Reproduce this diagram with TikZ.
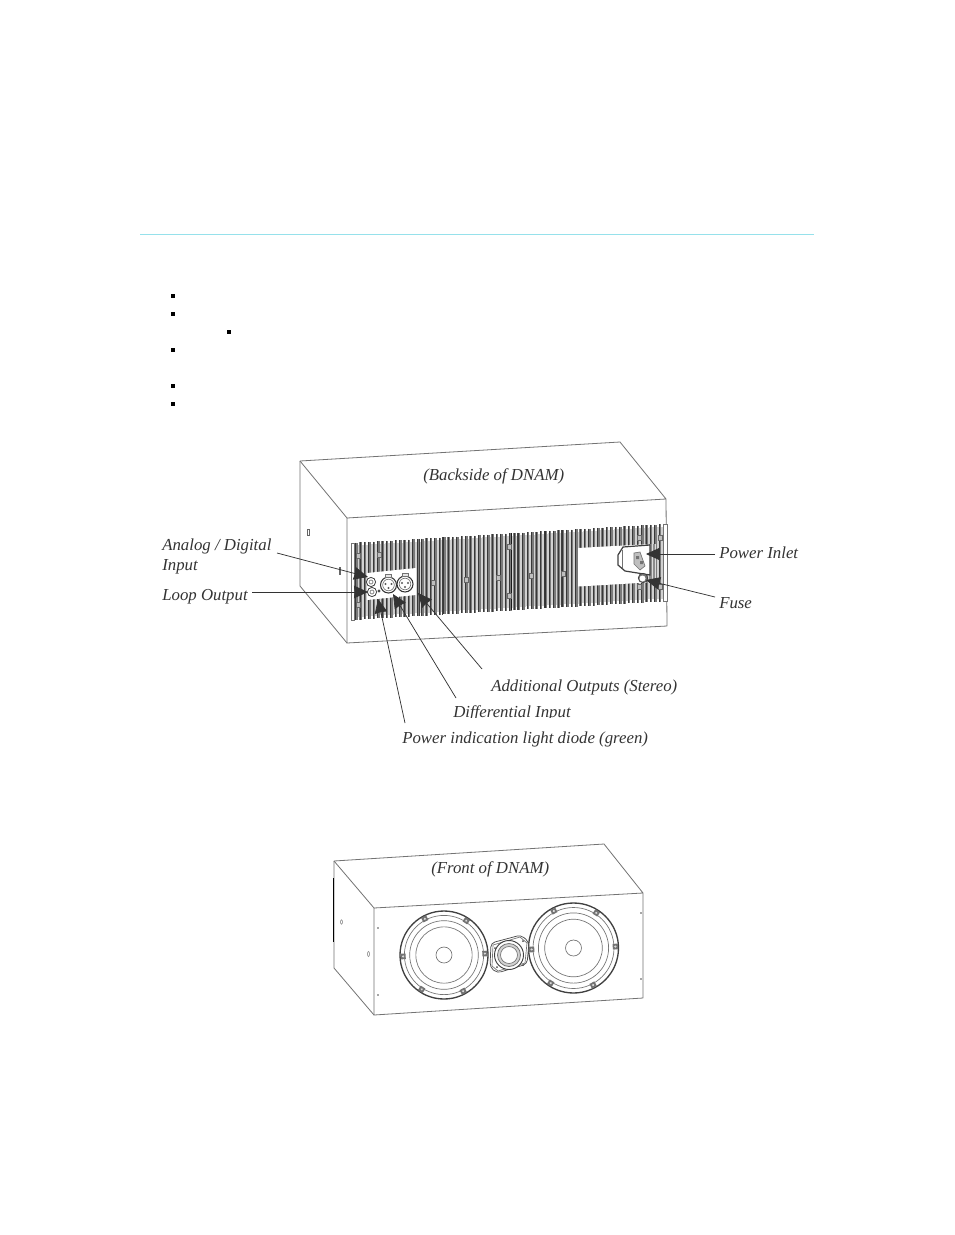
\documentclass[tikz,border=0pt]{standalone}
\usepackage{fontspec}
\setmainfont{Liberation Serif}
\usetikzlibrary{arrows.meta}
\definecolor{rulecyan}{RGB}{150,225,235}
\definecolor{ink}{gray}{0.2}
\tikzset{
  boxline/.style={draw=black!55,line width=0.6pt,line join=round},
  fine/.style={draw=black!55,line width=0.5pt},
  label/.style={font=\fontsize{12.6}{14}\selectfont\itshape,text=ink,inner sep=0pt,anchor=base west},
  callout/.style={draw=black!80,line width=0.55pt,-{Stealth[length=10.5pt,width=9.5pt,inset=0.5pt]}},
  bullet/.style={fill=black,draw=none,minimum size=3.4pt,inner sep=0pt}
}
\newcommand{\woofer}[3]{%
  \begin{scope}[shift={(#1,#2)}]
    \draw[draw=black!75,line width=1pt] (0,0) circle (#3);
    \draw[fine] (0,0) circle ({#3*0.9});
    \draw[fine] (0,0) circle ({#3*0.78});
    \draw[fine] (0,0) circle ({#3*0.64});
    \draw[fine] (0,0) circle (8);
    \foreach \a in {2,57,118,182,237,298}{
      \fill[black!55,rotate=\a] ({#3*0.93-2.6},-2.8) rectangle ({#3*0.93+2.6},2.8);
      \fill[black!15,rotate=\a] ({#3*0.93},0) circle (1.2);
    }
  \end{scope}}
\begin{document}
\begin{tikzpicture}[x=0.75pt,y=-0.75pt]
\useasboundingbox (0,0) rectangle (954,1235);
\fill[white] (0,0) rectangle (954,1235);
% header rule and empty bullets
\draw[rulecyan,line width=0.75pt] (140,234.5) -- (814,234.5);
\foreach \n/\x/\y in {a/173/296,b/173/314,c/229/332,d/173/350,e/173/386,f/173/404}
  \node[bullet] (bul\n) at (\x,\y) {};
% ---------- back cabinet
\draw[boxline] (300,461) -- (620,442) -- (666,499) -- (667,626) -- (347,643) -- (347,518) -- (666,499);
\draw[boxline] (300,461) -- (347,518);
\draw[boxline] (300,461) -- (300,586) -- (347,643);
\draw[black!60,fill=white,line width=0.4pt] (307.5,529) rectangle (309.5,535);
\draw[black!60,fill=white,line width=0.4pt] (339,567) rectangle (340.5,574);
% heat-sink fins
\foreach \i in {0,...,70}{
  \pgfmathsetmacro{\fx}{355+\i*4.4}
  \pgfmathsetmacro{\ft}{543-(\fx-351)*0.0610}
  \pgfmathsetmacro{\fb}{620-(\fx-351)*0.0600}
  \fill[black!18] (\fx-0.4,\ft+2.5) rectangle (\fx+4.2,\fb-3);
  \fill[black!52] (\fx,\ft) rectangle (\fx+2.5,\fb);
  \draw[black!78,line width=0.25pt] (\fx+0.4,\ft) -- (\fx+0.4,\fb);
}
\foreach \fx/\fg in {419/75,442/75,511/90,517/75,545/80,561/75}
  \draw[black!\fg,line width=0.7pt] (\fx,{543-(\fx-351)*0.061}) -- (\fx,{620-(\fx-351)*0.06});
% end strips
\draw[fine,fill=white] (351,543) -- (354.5,543) -- (354.5,620) -- (351,620) -- cycle;
\draw[fine,fill=white] (663.5,524) -- (667,524) -- (667,601) -- (663.5,601) -- cycle;
% cut-out for the inlet
\fill[white] (578,548) -- (652,544) -- (655,544) -- (655,582) -- (578,586.5) -- cycle;
\fill[black!45] (646,544) rectangle (656,583);
\foreach \x in {647.5,651.5,655}\fill[black!14] (\x,544) rectangle (\x+1.4,583);
% retaining clips
\foreach \mx/\my in {358/556,379/555,358/605,433/583,466/580,509/547,498/578,531/576,563/574,509/596,639/538,660/538,639/587,660/587}{
  \draw[black!60,fill=black!25,line width=0.4pt] (\mx-1.8,\my-2.4) rectangle (\mx+1.8,\my+2.4);
}
% connector plate
\fill[white] (367,573) -- (416,568) -- (416,595) -- (367,600) -- cycle;
\draw[draw=black!75,fill=white,line width=0.6pt] (371,582) circle (4.6);
\draw[fine] (371,582) circle (2);
\draw[draw=black!75,fill=white,line width=0.6pt] (372,592) circle (4.6);
\draw[fine] (372,592) circle (2);
\fill[black!70] (379,591) circle (1.7);
\foreach \cx/\cy in {388.5/585,405/584}{
  \draw[draw=black!80,fill=white,line width=0.8pt] (\cx,\cy) circle (8);
  \draw[fine] (\cx,\cy) circle (5.8);
  \fill[black!65] (\cx-3,\cy-1) circle (1.1) (\cx+3,\cy-1) circle (1.1) (\cx,\cy+3) circle (1.1);
  \draw[fine,fill=black!10] (\cx-3,\cy-11) rectangle (\cx+3,\cy-7.5);
}
% power inlet
\draw[draw=black!75,fill=white,line width=0.9pt] (618,555) -- (623,547) -- (650,545) -- (650,575) -- (625,571) -- (618,565) -- cycle;
\draw[fine] (622,550) -- (622,568);
\draw[fine,fill=black!25] (634,553) -- (640,552) -- (645,566) -- (640,570) -- (634,564) -- cycle;
\fill[black!55] (636,556) rectangle (639,559) (640,561) rectangle (643,564);
\draw[draw=black!80,fill=black!55,line width=0.4pt] (643,578) circle (4.8);
\fill[white] (642.5,578.5) circle (3);
% labels
\node[label] (lblBack) at (423,480) {(Backside of DNAM)};
\node[label] (lblAnalogA) at (162,550) {Analog / Digital};
\node[label] (lblAnalogB) at (162,570) {Input};
\node[label] (lblLoop) at (162,600) {Loop Output};
\node[label] (lblInlet) at (719,558) {Power Inlet};
\node[label] (lblFuse) at (719,608) {Fuse};
\node[label] (lblAdd) at (491,691) {Additional Outputs (Stereo)};
\node[label] (lblDiff) at (453,717) {Differential Input};
\fill[white] (400,718) rectangle (660,727);
\node[label] (lblPower) at (402,743) {Power indication light diode (green)};
% callouts
\coordinate (tailAnalog) at (277,553);
\coordinate (tipAnalog) at (368,577);
\coordinate (tailLoop) at (252,592);
\coordinate (tipLoop) at (368,592);
\coordinate (tailPower) at (405,723);
\coordinate (tipPower) at (378,599);
\coordinate (tailDiff) at (456,698);
\coordinate (tipDiff) at (393,594);
\coordinate (tailAdd) at (482,669);
\coordinate (tipAdd) at (418,593);
\coordinate (tailInlet) at (715,554);
\coordinate (tipInlet) at (646,554);
\coordinate (tailFuse) at (715,597);
\coordinate (tipFuse) at (646,580);
\foreach \n in {Analog,Loop,Power,Diff,Add,Inlet,Fuse}
  \draw[callout] (tail\n) -- (tip\n);
% ---------- front cabinet
\draw[boxline] (334,861) -- (604,844) -- (643,893) -- (643,998) -- (374,1015) -- (374,908) -- (643,893);
\draw[boxline] (334,861) -- (374,908);
\draw[boxline] (334,861) -- (334,968) -- (374,1015);
\draw[black,line width=1pt] (333.5,878) -- (333.5,942);
\draw[black!50,fill=white,line width=0.4pt] (341.5,922) ellipse (1 and 2.2);
\draw[black!50,fill=white,line width=0.4pt] (368.5,954) ellipse (1 and 2.6);
\foreach \dx/\dy in {378/928,378/995,641/913,641/979}\fill[black!70] (\dx,\dy) circle (0.8);
\woofer{444}{955}{44}
\woofer{573.5}{948}{45}
% tweeter
\draw[draw=black!70,fill=white,line width=0.55pt,rounded corners=3pt] (491,943) -- (521,935) -- (529,942) -- (527,964) -- (497,973) -- (490,967) -- cycle;
\draw[fine] (493,945) -- (520,937) -- (527,943) -- (525,963) -- (498,971) -- (492,966) -- cycle;
\foreach \tx/\ty in {495/948,523/941,523/965,497/967}\fill[black!70] (\tx,\ty) circle (1);
\draw[draw=black!75,fill=white,line width=0.7pt] (509,955) circle (14.5);
\draw[draw=black!55,fill=black!18,line width=0.6pt] (509,955) circle (11.5);
\fill[white] (509,955) circle (8.5);
\draw[fine] (509,955) circle (8.5);
\node[label] (lblFront) at (431,873) {(Front of DNAM)};
\end{tikzpicture}
\end{document}
